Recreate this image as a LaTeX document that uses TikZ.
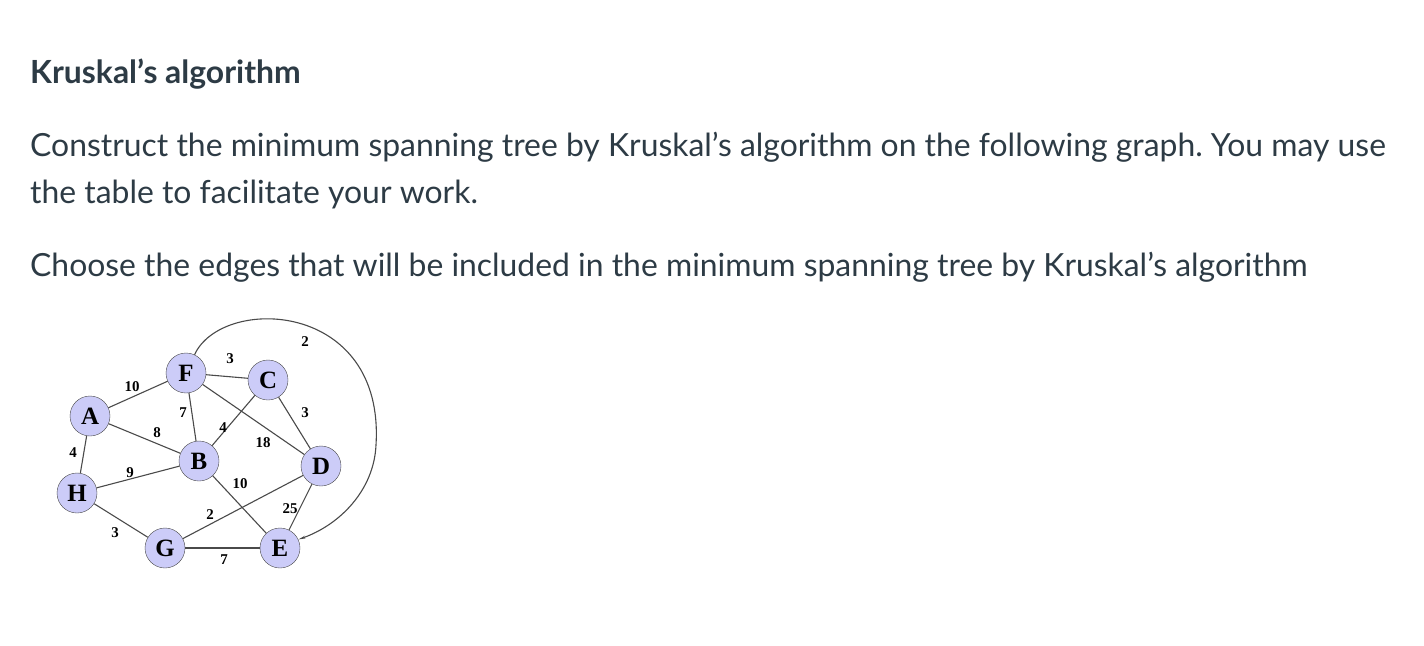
\documentclass[tikz,border=0pt]{standalone}
\usepackage{fontspec}
\setmainfont{Lato}
\newfontfamily\graphfont{Liberation Serif}
\usetikzlibrary{arrows.meta}
\definecolor{canvastext}{HTML}{2D3B45}
\definecolor{vertexfill}{RGB}{204,204,248}
\definecolor{edgegray}{HTML}{4A4A4A}
\frenchspacing
\tikzset{
  para/.style={anchor=base west,inner sep=0pt,text=canvastext,font=\fontsize{32}{38}\selectfont},
  vertex/.style={circle,draw=edgegray,fill=vertexfill,minimum size=40bp,inner sep=0pt,
    font=\graphfont\bfseries\fontsize{25}{25}\selectfont},
  wt/.style={inner sep=0pt,font=\graphfont\bfseries\fontsize{15}{15}\selectfont},
  edge/.style={draw=edgegray,line width=1.1bp}
}
\begin{document}
\begin{tikzpicture}[x=1bp,y=-1bp]
  \useasboundingbox[fill=white] (0,0) rectangle (1424,646);
  \node[para,font=\bfseries\fontsize{32}{38}\selectfont] (title) at (30,84) {Kruskal’s algorithm};
  \node[para] (line1) at (30,157) {Construct the minimum spanning tree by Kruskal’s algorithm on the following graph. You may use};
  \node[para] (line2) at (30,204) {the table to facilitate your work.};
  \node[para] (line3) at (30,276) {Choose the edges that will be included in the minimum spanning tree by Kruskal’s algorithm};

  % vertices
  \node[vertex] (F) at (186,373) {F};
  \node[vertex] (C) at (268,380) {C};
  \node[vertex] (A) at (90,416) {A};
  \node[vertex] (B) at (199,461) {B};
  \node[vertex] (D) at (321,466) {D};
  \node[vertex] (H) at (77,493) {H};
  \node[vertex] (G) at (165,548) {G};
  \node[vertex] (E) at (280,548) {E};

  % edges
  \draw[edge] (A) -- (F);
  \draw[edge] (F) -- (C);
  \draw[edge] (A) -- (B);
  \draw[edge] (F) -- (B);
  \draw[edge] (C) -- (B);
  \draw[edge] (F) -- (D);
  \draw[edge] (C) -- (D);
  \draw[edge] (A) -- (H);
  \draw[edge] (H) -- (B);
  \draw[edge] (B) -- (E);
  \draw[edge] (D) -- (G);
  \draw[edge] (D) -- (E);
  \draw[edge] (H) -- (G);
  \draw[edge] (G) -- (E);
  \draw[edge,-{Stealth[length=7bp,width=2.5bp,open]}] (F.65) .. controls (222,295) and (385,300) .. (376,445)
    .. controls (374,490) and (340,525) .. (E.25);

  % weights
  \node[wt] (wAF) at (132,387) {10};
  \node[wt] (wFC) at (230,359) {3};
  \node[wt] (wAB) at (157,433) {8};
  \node[wt] (wFB) at (183,413) {7};
  \node[wt] (wCB) at (223,428) {4};
  \node[wt] (wFD) at (263,443) {18};
  \node[wt] (wCD) at (305,413) {3};
  \node[wt] (wAH) at (73,453) {4};
  \node[wt] (wHB) at (130,473) {9};
  \node[wt] (wBE) at (240,484) {10};
  \node[wt] (wDG) at (210,515) {2};
  \node[wt] (wDE) at (290,509) {25};
  \node[wt] (wHG) at (115,533) {3};
  \node[wt] (wGE) at (224,560) {7};
  \node[wt] (wFE) at (305,342) {2};
\end{tikzpicture}
\end{document}
